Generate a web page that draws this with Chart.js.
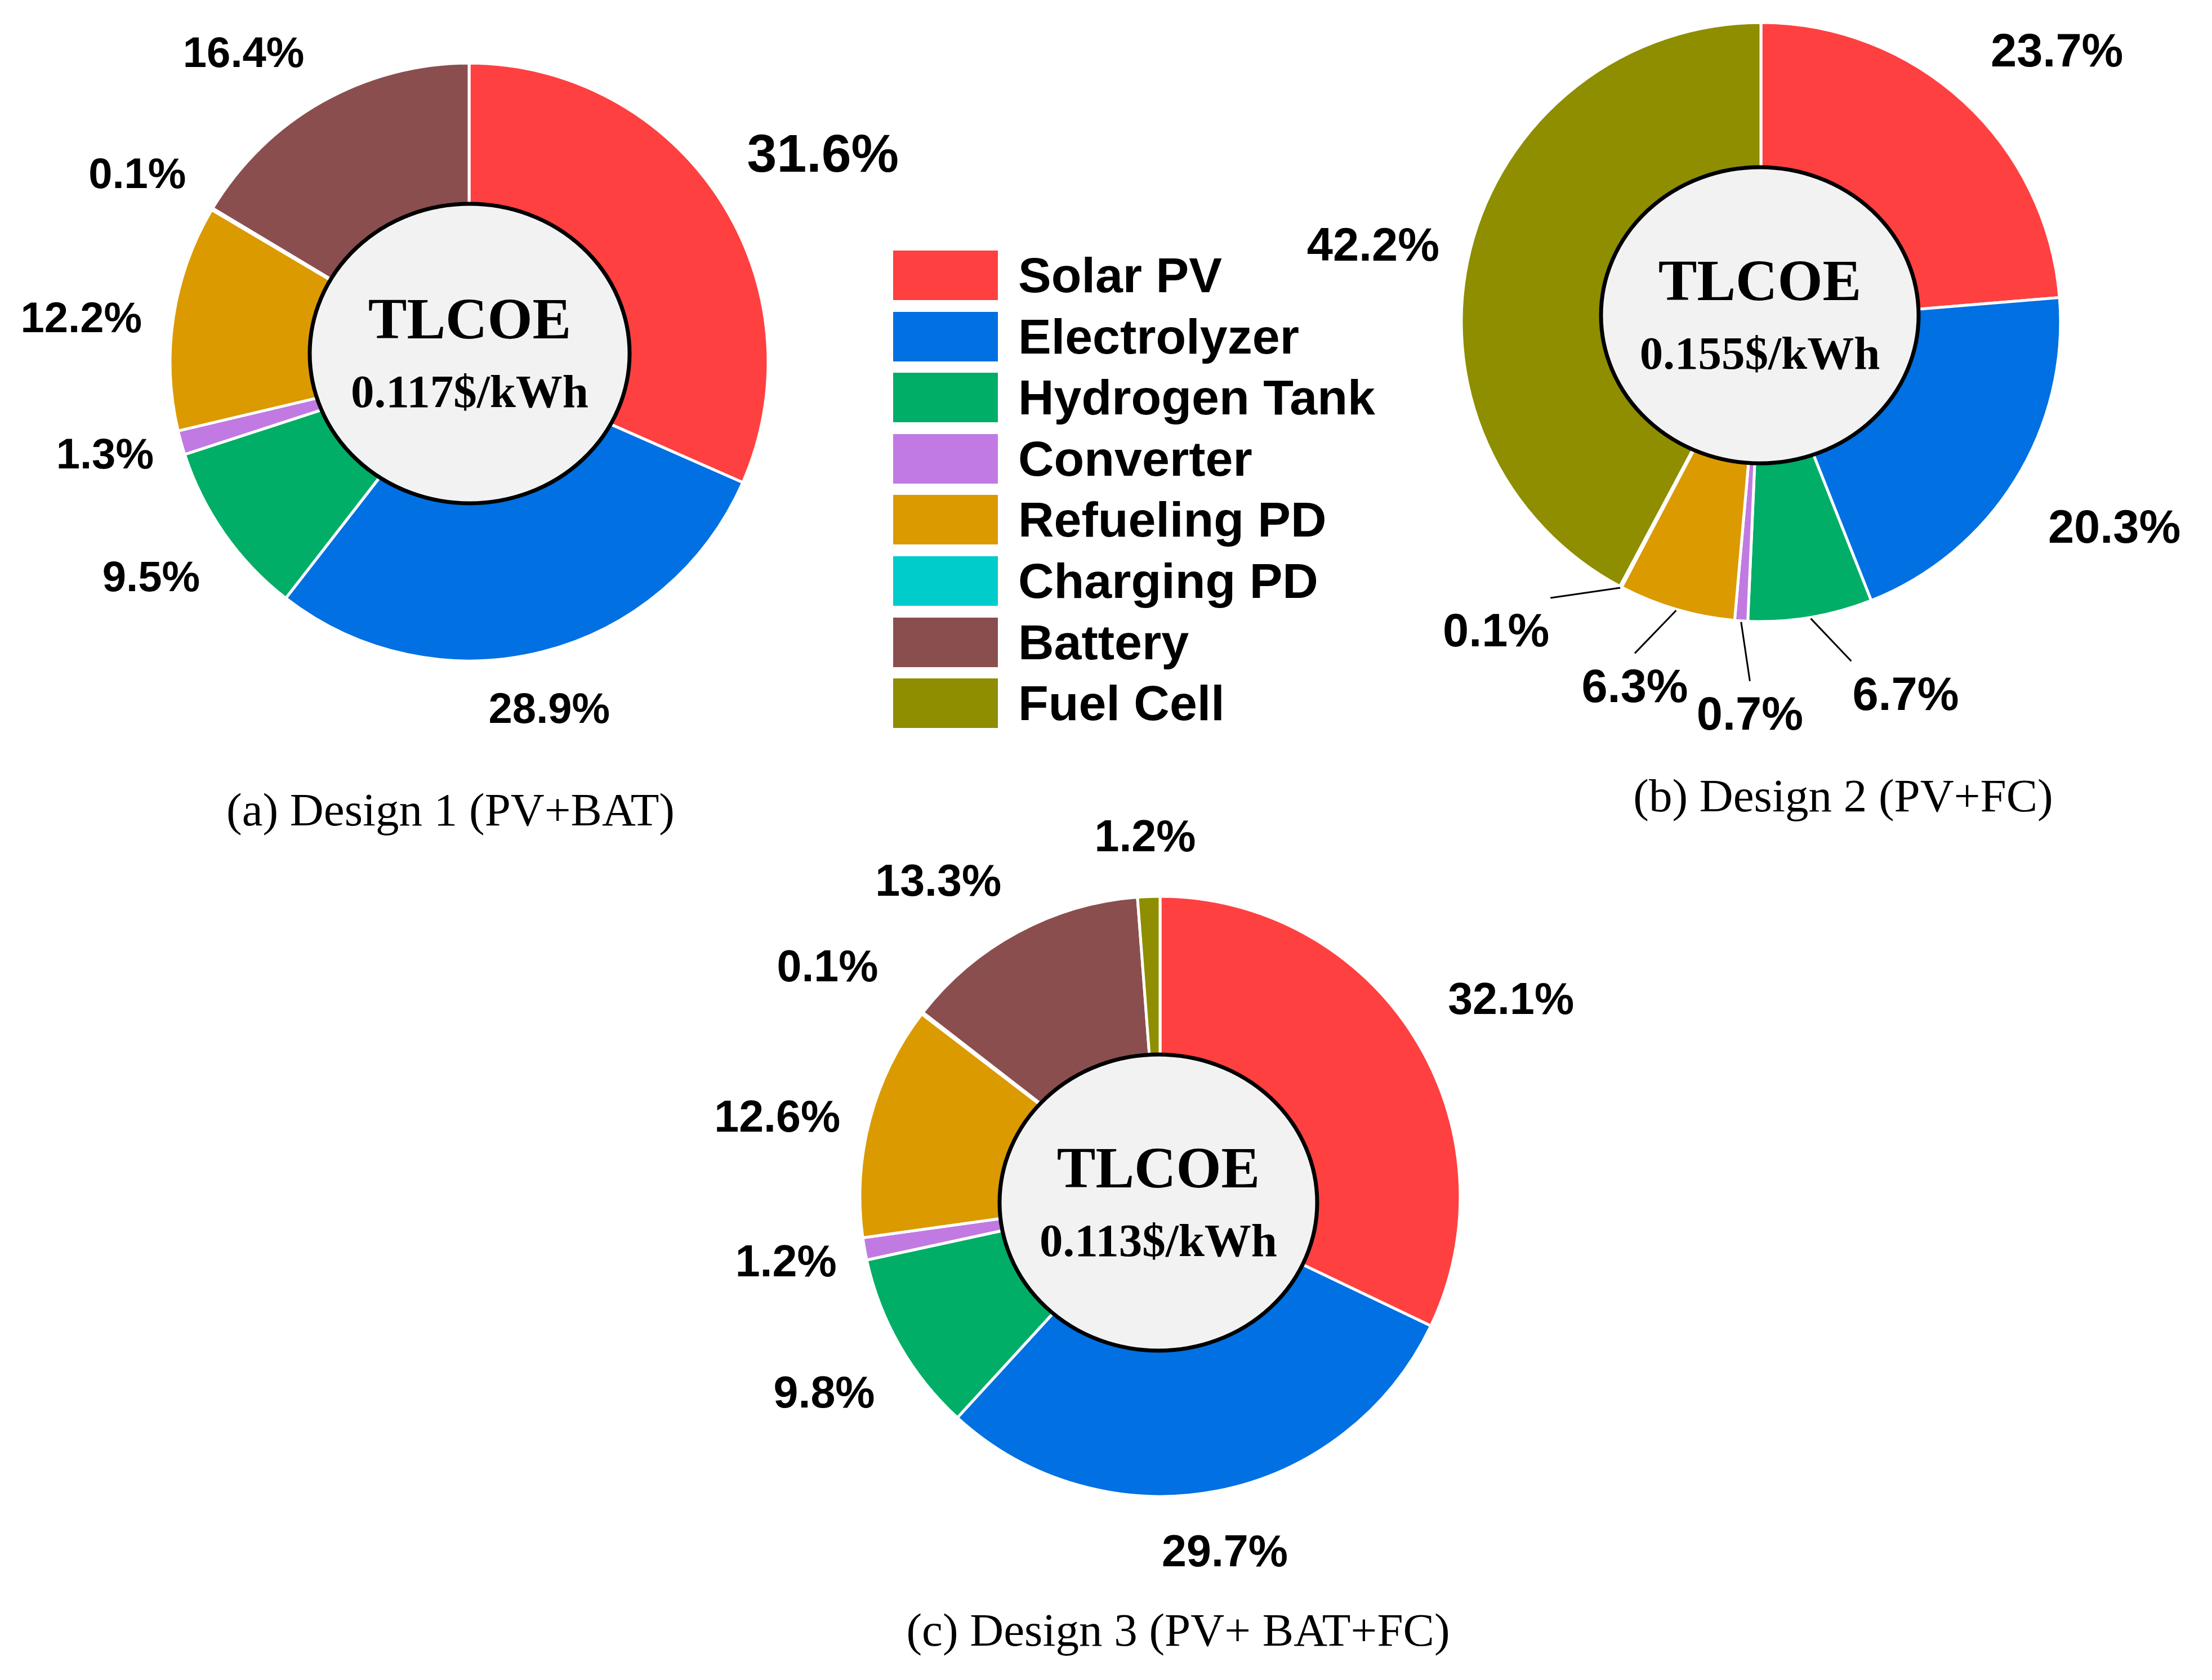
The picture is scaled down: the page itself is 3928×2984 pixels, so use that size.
<!DOCTYPE html>
<html>
<head>
<meta charset="utf-8">
<script src="https://cdn.jsdelivr.net/npm/chart.js@4.4.1/dist/chart.umd.min.js"></script>
<style>
  html, body { margin: 0; padding: 0; background: #ffffff; }
  #stage { position: relative; width: 3928px; height: 2984px; overflow: hidden; background: #ffffff; }
  #stage canvas { position: absolute; }
  .cap { position: absolute; font-family: "Liberation Serif", "Times New Roman", serif; font-size: 83px;
         line-height: 83px; white-space: nowrap; color: #000; transform: translateX(-50%); }
  #legend { position: absolute; left: 1586px; top: 445px; }
  .li { position: absolute; left: 0; height: 88px; white-space: nowrap; }
  .sw { position: absolute; left: 0; top: 0; width: 186px; height: 88px; }
  .lt { position: absolute; left: 222px; top: 0; font-family: "Liberation Sans", Arial, sans-serif; font-weight: bold;
        font-size: 88px; line-height: 88px; color: #000; }
</style>
</head>
<body>
<div id="stage"></div>
<script>
// ---------------- data ----------------
const categories = ['Solar PV', 'Electrolyzer', 'Hydrogen Tank', 'Converter', 'Refueling PD', 'Charging PD', 'Battery', 'Fuel Cell'];
const design1 = [31.6, 28.9, 9.5, 1.3, 12.2, 0.1, 16.4, 0];
const design2 = [23.7, 20.3, 6.7, 0.7, 6.3, 0.1, 0, 42.2];
const design3 = [32.1, 29.7, 9.8, 1.2, 12.6, 0.1, 13.3, 1.2];
const tlcoeValues = ['0.117$/kWh', '0.155$/kWh', '0.113$/kWh'];
const centerTitle = 'TLCOE';
const captions = ['(a) Design 1 (PV+BAT)', '(b) Design 2 (PV+FC)', '(c) Design 3 (PV+ BAT+FC)'];

// ---------------- styles / layout ----------------
const colors = ['#ff4040', '#0070e2', '#00ae67', '#c17ae2', '#db9a00', '#00cccc', '#8b4e4e', '#8e8e00'];
const M = 330; // canvas margin around the ring
const layouts = [
  { cx: 833, cy: 643, r: 531, font: 76, fontSizes: [95], ell: [1, -15, 284, 266],
    gaps:  [95, 68, 83, 53, 56, 77, 98, 75],
    shift: [-1.2, 2.6, -1.2, 0.3, -1.1, 1.2, -3.4, 0],
    capX: 800, capBase: 1466 },
  { cx: 3127, cy: 572, r: 532, font: 83, ell: [-2, -12, 282, 263],
    leader: [false, false, true, true, true, true, false, false],
    gaps:  [109, 100, 138, 133, 115, 134, 100, 57],
    shift: [1.2, 1.3, -10.1, -2.3, 1.2, 10.3, 0, -1.05],
    capX: 3273, capBase: 1441 },
  { cx: 2060, cy: 2125, r: 533, font: 79, ell: [-3, 11, 282, 263],
    gaps:  [94, 76, 84, 53, 54, 118, 101, 80],
    shift: [-0.3, 1.8, -2.6, -0.6, -1.3, -0.45, -3.6, 0],
    capX: 2092, capBase: 2923 }
];
const datasetsData = [design1, design2, design3];

// ---------------- plugin: centre badge + outside labels ----------------
const overlayPlugin = {
  id: 'overlay',
  afterDatasetsDraw(chart, args, opts) {
    const L = opts.layout;
    const ctx = chart.ctx;
    const meta = chart.getDatasetMeta(0);
    const values = chart.data.datasets[0].data;
    ctx.save();
    // centre ellipse
    const first = meta.data[0];
    const cx = first.x, cy = first.y;
    const ex = cx + L.ell[0], ey = cy + L.ell[1];
    ctx.beginPath();
    ctx.ellipse(ex, ey, L.ell[2], L.ell[3], 0, 0, Math.PI * 2);
    ctx.fillStyle = '#f2f2f2';
    ctx.fill();
    ctx.lineWidth = 7;
    ctx.strokeStyle = '#000';
    ctx.stroke();
    ctx.fillStyle = '#000';
    ctx.textAlign = 'center';
    ctx.textBaseline = 'alphabetic';
    ctx.font = 'bold 103px "Liberation Serif", "Times New Roman", serif';
    ctx.fillText(centerTitle, ex, ey - 27);
    ctx.font = 'bold 83px "Liberation Serif", "Times New Roman", serif';
    ctx.fillText(opts.value, ex, ey + 95);

    // labels
    meta.data.forEach((arc, i) => {
      const v = values[i];
      if (!v) return;
      const p = arc.getProps(['x', 'y', 'startAngle', 'endAngle', 'outerRadius'], true);
      const mid = (p.startAngle + p.endAngle) / 2;
      const a = mid + ((L.shift && L.shift[i]) || 0) * Math.PI / 180;
      const lead = L.leader && L.leader[i];
      const gap = L.gaps[i];
      const fs = (L.fontSizes && L.fontSizes[i]) || L.font;
      ctx.font = 'bold ' + fs + 'px "Liberation Sans", Arial, sans-serif';
      const text = v.toFixed(1) + '%';
      const w = ctx.measureText(text).width;
      const h = fs * 0.716;
      const ax = p.x + Math.cos(a) * (p.outerRadius + gap);
      const ay = p.y + Math.sin(a) * (p.outerRadius + gap);
      const tx = ax + Math.cos(a) * w / 2;
      const ty = ay + Math.sin(a) * h / 2;
      ctx.textAlign = 'center';
      ctx.fillStyle = '#000';
      ctx.fillText(text, tx, ty + h / 2);
      if (lead) {
        // leader from the ring edge to the label box (corner / edge middle)
        const px = p.x + Math.cos(mid) * (p.outerRadius + 2);
        const py = p.y + Math.sin(mid) * (p.outerRadius + 2);
        const bx0 = tx - w / 2 + 4, bx1 = tx + w / 2 - 4;
        const by0 = ty - h / 2, by1 = ty + h / 2;
        let qx, qy;
        if (px < bx0) qx = bx0 - 6; else if (px > bx1) qx = bx1 + 6; else qx = tx;
        if (py < by0) qy = by0 - 27; else if (py > by1) qy = by1 + 27; else qy = ty;
        ctx.beginPath();
        ctx.moveTo(px, py);
        ctx.lineTo(qx, qy);
        ctx.lineWidth = 3;
        ctx.strokeStyle = '#000';
        ctx.stroke();
      }
    });
    ctx.restore();
  }
};

// ---------------- build ----------------
const stage = document.getElementById('stage');
layouts.forEach((L, k) => {
  const half = L.r + M;
  const cv = document.createElement('canvas');
  cv.width = half * 2; cv.height = half * 2;
  cv.style.width = (half * 2) + 'px'; cv.style.height = (half * 2) + 'px';
  cv.style.left = (L.cx - half) + 'px'; cv.style.top = (L.cy - half) + 'px';
  stage.appendChild(cv);
  new Chart(cv.getContext('2d'), {
    type: 'doughnut',
    data: {
      labels: categories,
      datasets: [{
        data: datasetsData[k],
        backgroundColor: colors,
        borderColor: '#ffffff',
        borderWidth: 5,
        hoverOffset: 0
      }]
    },
    options: {
      responsive: false,
      maintainAspectRatio: false,
      devicePixelRatio: 1,
      animation: false,
      events: [],
      radius: L.r,
      cutout: '44%',
      rotation: 0,
      circumference: 360,
      layout: { padding: 0 },
      plugins: {
        legend: { display: false },
        title: { display: false },
        tooltip: { enabled: false },
        overlay: { layout: L, value: tlcoeValues[k] }
      }
    },
    plugins: [overlayPlugin]
  });
  const cap = document.createElement('div');
  cap.className = 'cap';
  cap.textContent = captions[k];
  cap.style.left = L.capX + 'px';
  cap.style.top = (L.capBase - 69.5) + 'px';
  stage.appendChild(cap);
});

// legend (built from categories & colors)
const legend = document.createElement('div');
legend.id = 'legend';
categories.forEach((name, i) => {
  const li = document.createElement('div');
  li.className = 'li';
  li.style.top = (i * 108.6) + 'px';
  const sw = document.createElement('div');
  sw.className = 'sw';
  sw.style.background = colors[i];
  const lt = document.createElement('div');
  lt.className = 'lt';
  lt.textContent = name;
  li.appendChild(sw); li.appendChild(lt);
  legend.appendChild(li);
});
stage.appendChild(legend);
</script>
</body>
</html>
